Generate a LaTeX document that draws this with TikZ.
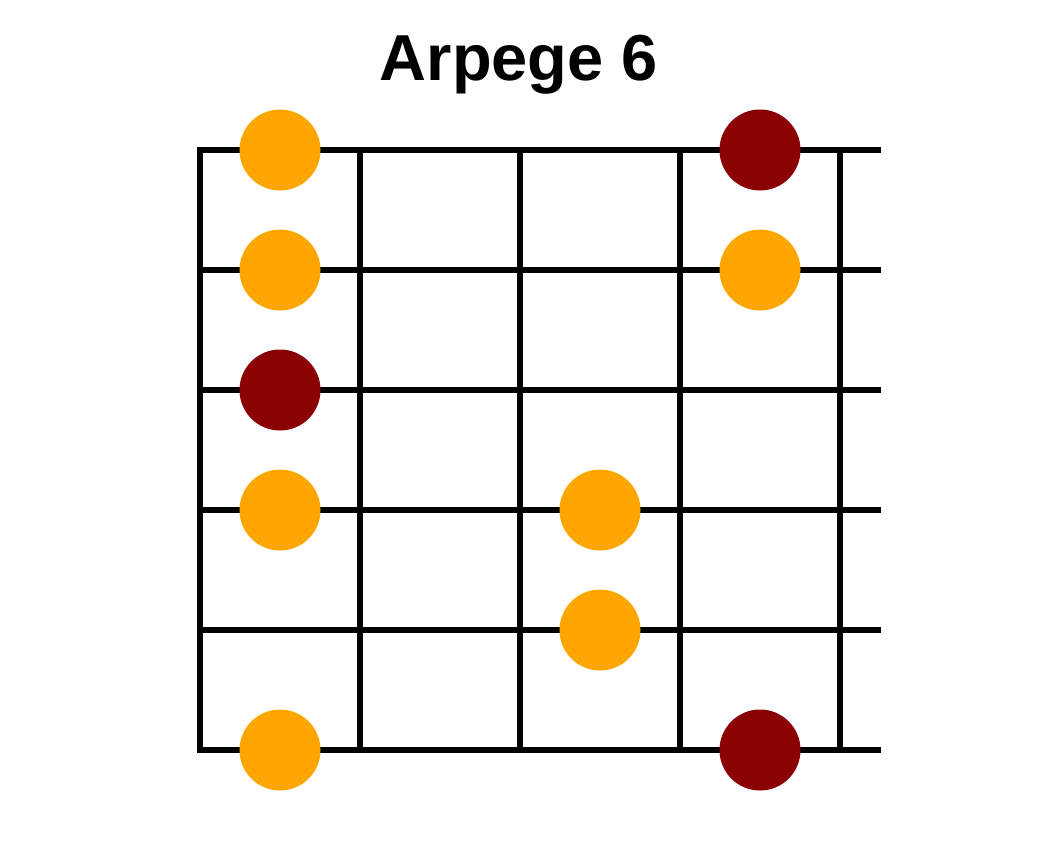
\documentclass[tikz,border=0pt]{standalone}
\usepackage{fontspec}
\setmainfont{Liberation Sans}
\definecolor{dotorange}{HTML}{FFA500}
\definecolor{dotred}{HTML}{8B0000}
\begin{document}
\begin{tikzpicture}[x=1pt,y=-1pt,
  gridline/.style={line width=5.5pt,black},
  od/.style={circle,fill=dotorange,minimum size=81pt,inner sep=0pt},
  rd/.style={circle,fill=dotred,minimum size=81pt,inner sep=0pt}]
\useasboundingbox (0,0) rectangle (1040,850);
\node[font=\bfseries\fontsize{65}{70}\selectfont,anchor=base] (title) at (519,81) {Arpege 6};
% strings
\foreach \y in {150,270,390,510,630,750}
  \draw[gridline] (197.5,\y) -- (881,\y);
% frets
\foreach \x in {200,360,520,680,840}
  \draw[gridline] (\x,147.5) -- (\x,752.5);
% dots
\node[od] (d1) at (280,150) {};
\node[rd] (d2) at (760,150) {};
\node[od] (d3) at (280,270) {};
\node[od] (d4) at (760,270) {};
\node[rd] (d5) at (280,390) {};
\node[od] (d6) at (280,510) {};
\node[od] (d7) at (600,510) {};
\node[od] (d8) at (600,630) {};
\node[od] (d9) at (280,750) {};
\node[rd] (d10) at (760,750) {};
\end{tikzpicture}
\end{document}
